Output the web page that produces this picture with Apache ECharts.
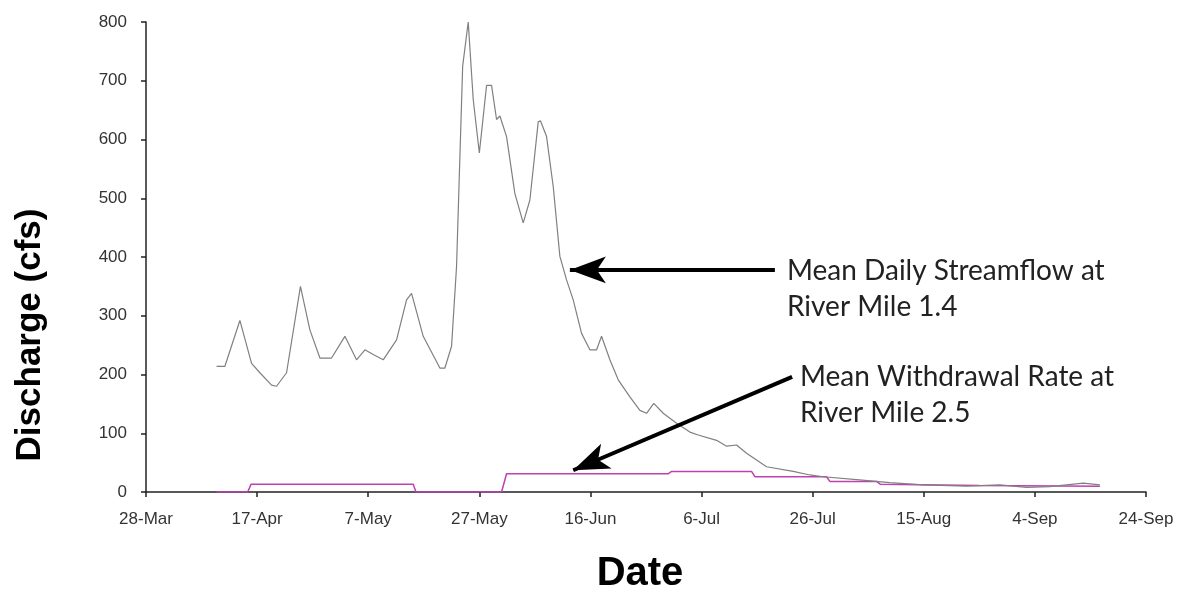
<!DOCTYPE html>
<html><head><meta charset="utf-8">
<script src="https://cdn.jsdelivr.net/npm/echarts@6/dist/echarts.min.js"></script>
<style>html,body{margin:0;padding:0;background:#fff;overflow:hidden}#c{width:1182px;height:593px}</style>
</head><body><div id="c"></div>
<script>
// x values are days after 28-Mar
const tickLabels = ["28-Mar","17-Apr","7-May","27-May","16-Jun","6-Jul","26-Jul","15-Aug","4-Sep","24-Sep"];
const flowDays = [12.7,14.2,16.9,19.0,20.5,22.6,23.5,25.3,27.8,29.5,31.3,33.4,35.8,37.9,39.4,40.9,42.7,45.1,46.9,47.8,49.9,52.9,53.8,55.0,55.9,57.0,58.0,58.9,60.0,61.3,62.2,63.1,63.7,64.9,66.4,67.9,69.1,70.6,71.0,72.1,73.3,74.5,75.7,76.9,78.4,79.9,81.1,82.0,83.5,85.0,87.1,88.9,90.1,91.4,93.1,95.5,97.9,99.4,102.7,104.5,106.3,108.1,111.7,116.5,119.5,121.9,127.9,133.9,139.9,147.7,153.7,158.5,162.7,168.7,171.7];
const flowValues = [214,214,292,219,203,182,180,203,350,276,228,228,265,225,242,234,225,259,327,338,265,211,211,248,384,725,800,668,577,692,692,634,640,605,508,458,497,630,632,605,520,401,361,327,270,242,242,265,225,191,162,139,134,151,134,117,102,97,88,78,80,66,43,35,29,26,21,16,12,10,12,8,9,15,12];
const wdDays = [12.7,18.3,18.9,48.1,48.6,64.0,64.9,94.0,94.6,109.0,109.6,122.5,123.1,131.5,132.2,150,171.7];
const wdValues = [0,0,13,13,0,0,31,31,35,35,26,26,18,18,13,11,10];

const flow = flowDays.map((d,i)=>[d,flowValues[i]]);
const wd = wdDays.map((d,i)=>[d,wdValues[i]]);

const chart = echarts.init(document.getElementById('c'), null, {renderer:'canvas', width:1182, height:593});
const tickFont = {fontFamily:'"Liberation Sans",Arial,sans-serif', fontSize:17, color:'#333'};
chart.setOption({
  animation:false,
  backgroundColor:'#fff',
  grid:{left:146,right:36,top:22,bottom:101,containLabel:false,outerBoundsMode:'none'},
  xAxis:{type:'value',min:0,max:180,interval:20,
    name:'Date',nameLocation:'middle',nameGap:62,
    nameTextStyle:{fontFamily:'"Liberation Sans",Arial,sans-serif',fontWeight:'bold',fontSize:40,color:'#000',padding:[0,12,0,0]},
    axisLine:{lineStyle:{color:'#222',width:1.5}},
    axisTick:{show:true,length:5,lineStyle:{color:'#222',width:1.5}},
    splitLine:{show:false},
    axisLabel:Object.assign({margin:19,formatter:v=>tickLabels[Math.round(v/20)]},tickFont)},
  yAxis:{type:'value',min:0,max:800,interval:100,
    axisLine:{show:true,lineStyle:{color:'#222',width:1.5}},
    axisTick:{show:true,length:5,lineStyle:{color:'#222',width:1.5}},
    splitLine:{show:false},
    axisLabel:Object.assign({margin:19},tickFont)},
  graphic:[
    {type:'text',x:30,y:335,rotation:Math.PI/2,style:{text:'Discharge (cfs)',font:'bold 35px "Liberation Sans",Arial,sans-serif',fill:'#000',align:'center',verticalAlign:'middle'}},
    {type:'text',left:787,top:253,style:{text:'Mean Daily Streamflow at\nRiver Mile 1.4',font:'28px Lato,"Open Sans",sans-serif',lineHeight:36,fill:'#222'}},
    {type:'text',left:800,top:359,style:{text:'Mean Withdrawal Rate at\nRiver Mile 2.5',font:'28px Lato,"Open Sans",sans-serif',lineHeight:36,fill:'#222'}}
  ],
  series:[
    {type:'line',name:'Mean Withdrawal Rate',data:wd,showSymbol:false,lineStyle:{color:'#c040b0',width:1.5},z:2},
    {type:'line',name:'Mean Daily Streamflow',data:flow,showSymbol:false,lineStyle:{color:'#808080',width:1.2},z:3,
      markLine:{silent:true,symbol:['none','arrow'],symbolSize:[20,36],
        lineStyle:{color:'#000',width:4,type:'solid'},label:{show:false},
        data:[
          [{coord:[113.2,378]},{coord:[76.3,378]}],
          [{coord:[116.3,196]},{coord:[76.9,37]}]
        ]}}
  ]
});
</script></body></html>
